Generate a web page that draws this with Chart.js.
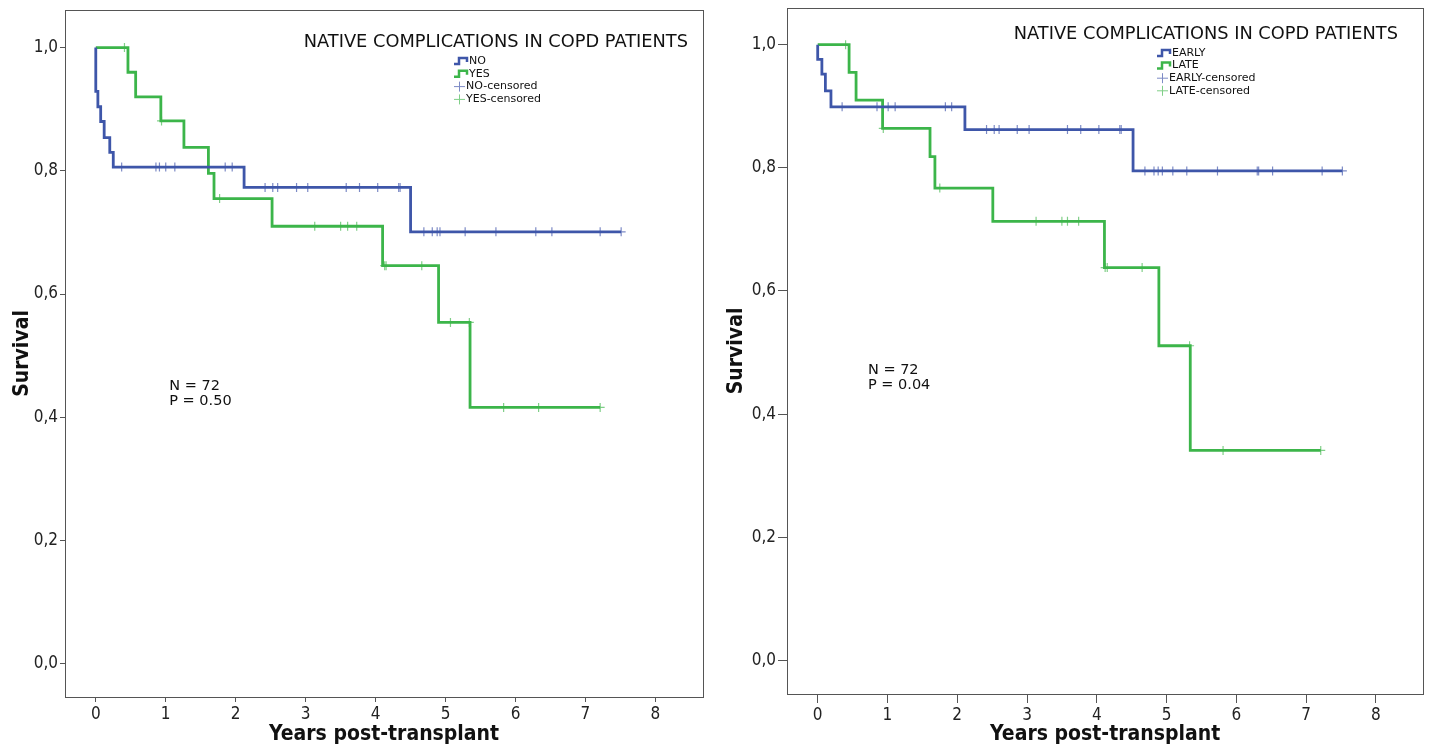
<!DOCTYPE html>
<html>
<head>
<meta charset="utf-8">
<script src="https://cdn.jsdelivr.net/npm/chart.js@4.4.1/dist/chart.umd.min.js"></script>
<style>
  body { margin: 0; background: #fff; }
  canvas { position: absolute; top: 0; }
</style>
</head>
<body>
<canvas id="leftChart" width="714" height="749" style="left:0"></canvas>
<canvas id="rightChart" width="715" height="749" style="left:714px"></canvas>
<script>
// ---- data ----
const xTicks = [0, 1, 2, 3, 4, 5, 6, 7, 8];
const yTicks = [0, 0.2, 0.4, 0.6, 0.8, 1.0];

// left panel: NO / YES
const noTimes = [0, 0, 0.03, 0.07, 0.12, 0.20, 0.25, 2.12, 4.50, 7.51];
const noSurv = [1.0, 0.929, 0.904, 0.880, 0.854, 0.830, 0.806, 0.773, 0.701, 0.701];
const noCensored = [0.37, 0.86, 0.91, 1.0, 1.13, 1.85, 1.95, 2.42, 2.53, 2.60, 2.87, 3.03, 3.58, 3.77, 4.03, 4.33, 4.35, 4.69, 4.81, 4.88, 4.92, 5.28, 5.72, 6.29, 6.52, 7.21, 7.51];

const yesTimes = [0, 0.46, 0.57, 0.93, 1.26, 1.61, 1.69, 2.52, 4.10, 4.90, 5.35, 7.21];
const yesSurv = [1.0, 0.960, 0.920, 0.881, 0.838, 0.796, 0.755, 0.710, 0.646, 0.554, 0.416, 0.416];
const yesCensored = [0.41, 0.94, 1.77, 3.13, 3.50, 3.60, 3.73, 4.13, 4.15, 4.66, 5.07, 5.34, 5.83, 6.33, 7.21];

// right panel: EARLY / LATE
const earlyTimes = [0, 0, 0.06, 0.11, 0.19, 2.11, 4.52, 7.52];
const earlySurv = [1.0, 0.976, 0.952, 0.925, 0.899, 0.862, 0.795, 0.795];
const earlyCensored = [0.35, 0.85, 0.93, 1.01, 1.11, 1.83, 1.92, 2.42, 2.53, 2.60, 2.86, 3.03, 3.58, 3.77, 4.03, 4.33, 4.35, 4.69, 4.82, 4.88, 4.94, 5.09, 5.29, 5.73, 6.30, 6.32, 6.52, 7.23, 7.52];

const lateTimes = [0, 0.45, 0.55, 0.93, 1.61, 1.68, 2.51, 4.11, 4.89, 5.34, 7.21];
const lateSurv = [1.0, 0.955, 0.910, 0.864, 0.818, 0.767, 0.713, 0.638, 0.511, 0.341, 0.341];
const lateCensored = [0.40, 0.94, 1.75, 3.13, 3.50, 3.58, 3.74, 4.12, 4.15, 4.65, 5.33, 5.81, 7.21];

const BLUE = "#3e56a9";
const GREEN = "#3cb54a";
const BLUE_LIGHT = "#7d8bc6";
const GREEN_LIGHT = "#80cf88";
const NARROW = "'Liberation Sans Narrow', 'DejaVu Sans Condensed', sans-serif";
const SANS = "'DejaVu Sans', sans-serif";

// curve points
function curve(times, surv) {
  return times.map((t, i) => ({ x: t, y: surv[i] }));
}

// censor marks sit on the curve level at that time
function censorPoints(censored, times, surv) {
  return censored.map(t => {
    let level = surv[0];
    for (let i = 0; i < times.length; i++) {
      if (times[i] <= t) level = surv[i];
    }
    return { x: t, y: level };
  });
}

// box around plot area
const framePlugin = {
  id: "frame",
  afterDraw(chart) {
    const a = chart.chartArea;
    const ctx = chart.ctx;
    ctx.save();
    ctx.strokeStyle = "#555";
    ctx.lineWidth = 1;
    ctx.strokeRect(Math.round(a.left) + 0.5, Math.round(a.top) + 0.5, Math.round(a.right - a.left), Math.round(a.bottom - a.top));
    ctx.restore();
  }
};

// title, legend and N/P note inside the plot
const notesPlugin = {
  id: "notes",
  afterDraw(chart, args, o) {
    const ctx = chart.ctx;
    const xs = chart.scales.x, ys = chart.scales.y;
    ctx.save();
    ctx.fillStyle = "#111";
    ctx.textBaseline = "middle";
    ctx.textAlign = "right";
    ctx.font = "17.8px " + SANS;
    ctx.fillText("NATIVE COMPLICATIONS IN COPD PATIENTS", o.titleRight, o.titleY);

    ctx.textAlign = "left";
    ctx.font = "11px " + SANS;
    o.legend.forEach((item, i) => {
      const y = o.legendY + i * o.legendStep;
      const x = o.legendX;
      ctx.strokeStyle = item.color;
      ctx.beginPath();
      if (item.censored) {
        ctx.lineWidth = 1;
        ctx.moveTo(x, y); ctx.lineTo(x + 11, y);
        ctx.moveTo(x + 5.5, y - 5); ctx.lineTo(x + 5.5, y + 5);
      } else {
        ctx.lineWidth = 2.5;
        ctx.moveTo(x, y + 3); ctx.lineTo(x + 5, y + 3); ctx.lineTo(x + 5, y - 3);
        ctx.lineTo(x + 13, y - 3); ctx.lineTo(x + 13, y + 1);
      }
      ctx.stroke();
      ctx.fillStyle = "#111";
      ctx.fillText(item.label, x + (item.censored ? 12 : 15), y);
    });

    ctx.font = "14.5px " + SANS;
    const nx = xs.getPixelForValue(o.noteAt[0]);
    const ny = ys.getPixelForValue(o.noteAt[1]);
    ctx.fillText("N = 72", nx, ny);
    ctx.fillText(o.pText, nx, ny + 15);
    ctx.restore();
  }
};

function makeChart(id, p) {
  return new Chart(document.getElementById(id), {
    type: "scatter",
    data: {
      datasets: [
        { data: curve(p.times[0], p.surv[0]), showLine: true, stepped: true, borderColor: BLUE, borderWidth: 2.8, pointRadius: 0, order: 0 },
        { data: curve(p.times[1], p.surv[1]), showLine: true, stepped: true, borderColor: GREEN, borderWidth: 2.8, pointRadius: 0, order: 0 },
        { data: censorPoints(p.censored[0], p.times[0], p.surv[0]), pointStyle: "cross", pointRadius: 4.5, borderColor: BLUE_LIGHT, pointBorderWidth: 1.2, order: 1 },
        { data: censorPoints(p.censored[1], p.times[1], p.surv[1]), pointStyle: "cross", pointRadius: 4.5, borderColor: GREEN_LIGHT, pointBorderWidth: 1.2, order: 1 }
      ]
    },
    options: {
      responsive: false,
      animation: false,
      devicePixelRatio: 1,
      layout: { padding: { top: p.padTop, right: p.padRight, left: 0, bottom: 0 } },
      plugins: {
        legend: { display: false },
        tooltip: { enabled: false },
        notes: p.notes
      },
      scales: {
        x: {
          type: "linear",
          min: -0.44,
          max: 8.68,
          afterBuildTicks: s => { s.ticks = xTicks.map(v => ({ value: v })); },
          afterFit: s => { s.height = p.xAxisHeight; s.paddingLeft = 0; s.paddingRight = 0; },
          ticks: { color: "#222", font: { family: NARROW, size: 17 }, padding: 2, maxRotation: 0, autoSkip: false, callback: v => String(v) },
          grid: { drawOnChartArea: false, drawTicks: true, tickLength: p.tickLen, color: "#555" },
          border: { display: true, color: "#555" },
          title: { display: true, text: "Years post-transplant", color: "#111", font: { family: NARROW, size: 21, weight: "bold" }, padding: { top: 0, bottom: 2 } }
        },
        y: {
          type: "linear",
          min: p.yMin,
          max: p.yMax,
          afterBuildTicks: s => { s.ticks = yTicks.map(v => ({ value: v })); },
          afterFit: s => { s.width = p.yAxisWidth; s.paddingTop = 0; s.paddingBottom = 0; },
          ticks: { color: "#222", font: { family: NARROW, size: 17 }, padding: 2, callback: v => v.toFixed(1).replace(".", ",") },
          grid: { drawOnChartArea: false, drawTicks: true, tickLength: p.tickLen, color: "#555" },
          border: { display: true, color: "#555" },
          title: { display: true, text: "Survival", color: "#111", font: { family: NARROW, size: 21, weight: "bold" }, padding: { top: 10, bottom: 0 } }
        }
      }
    },
    plugins: [framePlugin, notesPlugin]
  });
}

makeChart("leftChart", {
  times: [noTimes, yesTimes],
  surv: [noSurv, yesSurv],
  censored: [noCensored, yesCensored],
  padTop: 10, padRight: 11, xAxisHeight: 52, yAxisWidth: 65, tickLen: 5, yMin: -0.054, yMax: 1.061,
  notes: {
    titleRight: 688, titleY: 42,
    legendX: 454, legendY: 61, legendStep: 12.8,
    legend: [
      { label: "NO", color: BLUE }, { label: "YES", color: GREEN },
      { label: "NO-censored", color: BLUE_LIGHT, censored: true },
      { label: "YES-censored", color: GREEN_LIGHT, censored: true }
    ],
    noteAt: [1.05, 0.45], pText: "P = 0.50"
  }
});

makeChart("rightChart", {
  times: [earlyTimes, lateTimes],
  surv: [earlySurv, lateSurv],
  censored: [earlyCensored, lateCensored],
  padTop: 8, padRight: 4, xAxisHeight: 55, yAxisWidth: 73, tickLen: 9, yMin: -0.0545, yMax: 1.0595,
  notes: {
    titleRight: 684, titleY: 34,
    legendX: 443, legendY: 53, legendStep: 12.6,
    legend: [
      { label: "EARLY", color: BLUE }, { label: "LATE", color: GREEN },
      { label: "EARLY-censored", color: BLUE_LIGHT, censored: true },
      { label: "LATE-censored", color: GREEN_LIGHT, censored: true }
    ],
    noteAt: [0.72, 0.472], pText: "P = 0.04"
  }
});
</script>
</body>
</html>
